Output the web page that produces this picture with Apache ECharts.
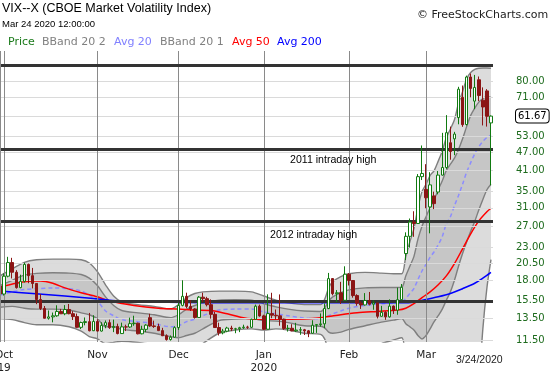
<!DOCTYPE html>
<html><head><meta charset="utf-8">
<script src="https://cdn.jsdelivr.net/npm/echarts@6/dist/echarts.min.js"></script>
<style>html,body{margin:0;padding:0;background:#fff}#c{width:550px;height:375px}</style>
</head><body><div id="c"></div>
<script>
// ---- categories (trading days) ----
const dates = ['9/30',
'10/1','10/2','10/3','10/4','10/7','10/8','10/9','10/10','10/11','10/14','10/15','10/16','10/17','10/18','10/21','10/22','10/23','10/24','10/25','10/28','10/29','10/30','10/31',
'11/1','11/4','11/5','11/6','11/7','11/8','11/11','11/12','11/13','11/14','11/15','11/18','11/19','11/20','11/21','11/22','11/25','11/26','11/27','11/29',
'12/2','12/3','12/4','12/5','12/6','12/9','12/10','12/11','12/12','12/13','12/16','12/17','12/18','12/19','12/20','12/23','12/24','12/26','12/27','12/30','12/31',
'1/2','1/3','1/6','1/7','1/8','1/9','1/10','1/13','1/14','1/15','1/16','1/17','1/21','1/22','1/23','1/24','1/27','1/28','1/29','1/30','1/31',
'2/3','2/4','2/5','2/6','2/7','2/10','2/11','2/12','2/13','2/14','2/18','2/19','2/20','2/21','2/24','2/25','2/26','2/27','2/28',
'3/2','3/3','3/4','3/5','3/6','3/9','3/10','3/11','3/12','3/13','3/16','3/17','3/18','3/19','3/20','3/23','3/24'];

// ---- price candles ----
const opens = [17.22,
16.24,18.56,20.56,19.12,17.04,17.86,20.28,18.64,17.57,15.58,14.57,13.54,13.68,13.79,14.25,14.00,14.46,14.01,13.71,12.65,13.11,13.20,12.33,
13.22,12.30,12.83,13.10,12.62,12.73,12.07,12.69,12.68,13.00,13.05,12.05,12.46,13.60,12.78,12.73,12.34,11.87,11.54,11.75,
12.62,14.91,15.96,14.80,14.52,13.62,15.86,15.68,14.99,13.94,12.63,12.14,12.29,12.58,12.50,12.51,12.61,12.67,12.65,13.43,14.82,
13.78,12.47,14.02,13.85,13.79,13.45,12.54,12.56,12.32,12.39,12.42,12.32,12.10,12.85,12.91,12.98,14.56,18.23,16.28,16.39,15.49,
18.84,17.97,16.05,15.15,14.96,15.47,15.04,15.18,13.74,14.15,13.68,14.83,14.38,15.56,22.00,25.03,27.85,27.56,39.16,
35.60,31.20,33.90,34.90,39.62,41.94,50.50,52.00,61.00,71.00,57.90,82.70,69.00,81.00,69.50,74.50,58.60];
const highs = [17.60,
18.95,21.46,21.30,19.42,18.77,20.53,20.40,19.75,17.60,16.23,14.84,14.35,14.13,14.92,14.52,14.94,15.07,14.28,14.02,13.20,13.62,14.09,13.85,
13.43,13.14,13.32,13.40,13.40,13.00,13.10,12.90,13.60,13.80,13.10,12.80,12.95,14.00,13.30,13.00,12.60,12.00,11.90,12.75,
15.20,18.00,16.40,15.50,14.60,16.00,16.40,15.90,15.60,14.20,13.10,12.50,12.70,12.80,12.60,12.70,12.90,12.80,13.50,15.00,15.00,
13.90,16.20,16.39,14.46,16.19,13.50,12.88,12.95,13.08,12.67,12.50,12.40,13.34,12.95,14.04,15.13,19.02,18.30,16.73,17.79,19.99,
19.01,18.00,16.21,15.37,16.35,16.49,15.47,15.20,14.86,14.27,15.60,14.90,17.04,17.50,25.79,28.61,30.21,39.92,49.48,
43.00,40.50,35.00,40.85,54.39,62.12,57.00,54.80,76.83,77.57,83.56,84.83,84.00,83.00,76.50,75.50,62.00];
const lows = [16.10,
16.05,18.40,18.25,16.91,16.95,17.70,17.61,16.94,15.05,14.40,13.52,13.40,13.13,13.69,13.99,13.85,13.95,13.36,12.60,12.48,12.84,12.27,12.30,
12.26,12.25,12.56,12.50,12.20,12.00,12.05,12.30,12.60,12.80,12.00,12.00,12.20,12.70,12.60,12.30,11.85,11.45,11.45,11.70,
12.40,14.80,14.60,14.30,13.50,13.60,15.30,14.80,13.50,12.60,11.90,12.00,12.20,12.30,12.10,12.20,12.50,12.50,12.60,13.40,13.70,
12.40,12.45,13.54,13.39,12.80,12.41,12.25,12.28,12.22,11.96,11.94,11.75,12.05,12.13,12.71,12.57,14.50,16.07,15.29,15.07,15.40,
17.31,15.80,14.87,14.52,14.90,14.91,14.43,13.52,13.70,13.38,13.60,13.98,13.90,15.50,20.95,23.01,24.94,27.50,38.18,
30.90,25.60,30.70,34.30,39.50,41.50,44.46,46.00,58.00,56.90,57.50,71.00,65.00,69.00,57.50,57.00,36.70];
const closes = [16.24,
18.56,20.56,19.12,17.04,17.86,20.28,18.64,17.57,15.58,14.57,13.54,13.68,13.79,14.25,14.00,14.46,14.01,13.71,12.65,13.11,13.20,12.33,13.22,
12.30,12.83,13.10,12.62,12.73,12.07,12.69,12.68,13.00,13.05,12.05,12.46,12.86,12.78,12.73,12.34,11.87,11.54,11.75,12.62,
14.91,15.96,14.80,14.52,13.62,15.86,15.68,14.99,13.94,12.63,12.14,12.29,12.58,12.50,12.51,12.61,12.67,12.65,13.43,14.82,13.78,
12.47,14.02,13.85,13.79,13.45,12.54,12.56,12.32,12.39,12.42,12.32,12.10,12.85,12.91,12.98,14.56,18.23,16.28,16.39,15.49,18.84,
17.97,16.05,15.15,14.96,15.47,15.04,15.18,13.74,14.15,13.68,14.83,14.38,15.56,17.08,25.03,27.85,27.56,39.16,40.11,
33.42,36.82,31.99,39.62,41.94,54.46,47.30,53.90,75.47,57.83,82.69,75.91,76.45,72.00,66.04,61.59,61.67];

// ---- Bollinger bands / Avg 20, read at these day indexes ----
const bandIdx = [0,3,6,9,13,17,20,22,24,26,28,30,34,38,42,44,46,48,50,54,58,62,65,68,71,75,79,80,81,82,84,86,90,94,97,99,100,101,102,103,104,105,106,107,108,109,110,111,112,113,114,115,116,117,118,119,120,121];
const bbUpper2 = [18.6,19.6,20.6,21.0,21.1,21.1,21.0,20.5,19.2,17.4,16.0,15.3,15.0,14.8,14.5,15.0,15.8,16.3,16.5,16.6,16.6,16.5,16.0,15.5,15.2,15.0,15.0,15.6,17.0,17.8,18.5,18.9,19.1,19.0,18.9,18.9,21.5,24.0,26.5,31.0,35.0,37.0,39.5,41.0,44.0,47.5,52.5,56.0,60.0,68.0,74.0,81.5,85.5,87.5,88.3,88.5,88.5,88.3];
const bbUpper1 = [17.3,18.0,18.7,18.95,19.05,19.0,18.8,18.3,17.3,15.9,14.9,14.35,14.1,13.9,13.6,13.9,14.5,14.9,15.2,15.5,15.55,15.5,15.1,14.75,14.5,14.3,14.25,14.6,15.4,15.9,16.4,16.75,17.0,17.05,17.05,17.1,18.6,20.0,21.5,24.5,27.0,29.0,31.0,33.0,35.5,38.0,41.0,43.0,45.0,48.0,52.0,57.0,62.0,65.5,68.5,70.3,71.5,71.0];
const avg20 = [16.1,16.5,16.8,16.9,17.0,16.9,16.6,16.1,15.4,14.3,13.8,13.4,13.2,13.0,12.7,12.8,13.2,13.45,13.8,14.4,14.5,14.5,14.2,14.0,13.8,13.55,13.5,13.6,13.8,14.0,14.3,14.6,14.9,15.1,15.2,15.3,15.7,16.3,16.9,18.1,19.3,20.3,21.4,22.3,23.5,25.0,27.5,29.0,31.5,34.0,37.0,40.5,43.5,46.5,49.0,51.0,52.5,53.5];
const bbLower1 = [14.7,14.8,14.6,14.5,14.5,14.4,14.1,13.9,13.5,12.7,12.7,12.45,12.3,12.1,11.8,11.7,11.9,12.1,12.5,13.3,13.45,13.5,13.3,13.25,13.1,12.8,12.75,12.6,12.2,12.1,12.2,12.45,12.8,13.15,13.35,13.5,13.0,12.7,12.4,11.9,11.6,11.9,12.5,13.2,13.8,14.5,15.5,16.5,18.0,20.0,22.0,24.0,26.0,28.0,30.5,33.0,35.5,37.0];
const bbLower2 = [13.5,13.4,13.1,12.9,12.9,12.7,12.3,11.8,11.6,11.2,11.3,11.4,11.3,11.1,10.9,10.6,10.6,10.7,11.2,12.1,12.4,12.5,12.4,12.5,12.4,12.1,12.0,11.6,10.6,10.2,10.1,10.3,10.7,11.2,11.5,11.7,10.2,9.3,8.5,6.0,5,5,5,5,5,5,5,5,5,5,5,5,5,5,8.0,12.5,17.0,21.0];

// ---- Avg 50 / Avg 200, read at these day indexes ----
const avg50Idx = [0,4,8,10,13,16,20,24,27,33,39,44,48,52,56,60,63,70,76,80,84,88,93,98,100,102,104,106,108,110,112,114,116,118,120,121];
const avg50 = [17.1,17.6,17.9,17.9,17.6,17.0,16.4,15.9,15.4,14.9,14.6,14.5,14.4,14.35,14.0,13.6,13.45,13.45,13.5,13.65,13.9,14.1,14.25,14.4,14.6,15.1,15.8,16.5,17.4,18.6,20.4,22.8,25.5,28.1,30.1,30.9];
const avg200Idx = [0,8,16,23,27,33,45,60,80,100,103,105,108,111,114,117,119,121];
const avg200 = [16.6,16.3,16.0,15.7,15.5,15.3,15.25,15.2,15.2,15.2,15.35,15.6,15.9,16.3,16.9,17.6,18.3,19.1];

// ---- axis ticks, reference levels, month labels ----
const yTicks = [80,71,53,47,41,35,31,27,23,20.5,18,15.5,13.5,11.5];
const levelLines = [90.5,48.2,28.1,15.4];
const monthStarts = {'10/1':'Oct\n19','11/1':'Nov','12/2':'Dec','1/2':'Jan\n2020','2/3':'Feb','3/2':'Mar'};

const lastPrice = closes[closes.length-1];
const FONT = 'DejaVu Sans';
const pairs = (idx, vals) => idx.map((k,i)=>[dates[k], vals[i]]);
const bandLine = {color:'#7f7f7f', width:1.4};
function bandSeries(vals, fill){
  return {type:'line', data:pairs(bandIdx, vals), smooth:0.3, symbol:'none', z:1, silent:true,
    lineStyle:bandLine, areaStyle:{color:fill, opacity:1, origin:'start'}};
}
const chart = echarts.init(document.getElementById('c'));
const tickData = yTicks.map(v=>({yAxis:v, label:{formatter:v.toFixed(2)}}));
tickData.push({yAxis:lastPrice, label:{formatter:lastPrice.toFixed(2), color:'#000', backgroundColor:'#fff',
  borderColor:'#000', borderWidth:1, borderRadius:3, padding:[2,2,1,2]}});

chart.setOption({
  animation:false,
  grid:{left:-2, right:57, top:51, bottom:33, outerBoundsMode:'none', containLabel:false},
  xAxis:{type:'category', data:dates, boundaryGap:true,
    axisLine:{show:false}, axisTick:{show:false}, splitLine:{show:false},
    axisLabel:{interval:(i,v)=> (v in monthStarts), formatter:(v)=> monthStarts[v]||'',
      fontFamily:FONT, fontSize:10.5, color:'#222', lineHeight:13, margin:7, hideOverlap:false}},
  yAxis:{type:'log', logBase:10, min:11.33, max:100.5, position:'right',
    axisLine:{show:false}, axisTick:{show:false}, axisLabel:{show:false}, splitLine:{show:false}},
  graphic:[
    {type:'line', shape:{x1:0.5,y1:51,x2:0.5,y2:342}, style:{stroke:'#8a8a8a', lineWidth:1}, z:50},
    {type:'text', left:2, top:2, z:100, style:{text:'VIX--X (CBOE Market Volatility Index)', font:'12.5px "Liberation Sans"', fill:'#000'}},
    {type:'text', left:2, top:19.5, z:100, style:{text:'Mar 24 2020 12:00:00', font:'9.5px "Liberation Sans"', fill:'#000'}},
    {type:'text', left:417, top:10, z:100, style:{text:'\u00A9 FreeStockCharts.com', font:'11px "DejaVu Sans"', fill:'#222'}},
    {type:'text', left:8, top:36.5, z:100, style:{text:'Price', font:'11px "DejaVu Sans"', fill:'#1a7a1a'}},
    {type:'text', left:42, top:36.5, z:100, style:{text:'BBand 20 2', font:'11px "DejaVu Sans"', fill:'#808080'}},
    {type:'text', left:114, top:36.5, z:100, style:{text:'Avg 20', font:'11px "DejaVu Sans"', fill:'#8080ff'}},
    {type:'text', left:160, top:36.5, z:100, style:{text:'BBand 20 1', font:'11px "DejaVu Sans"', fill:'#808080'}},
    {type:'text', left:232, top:36.5, z:100, style:{text:'Avg 50', font:'11px "DejaVu Sans"', fill:'#ff0000'}},
    {type:'text', left:277, top:36.5, z:100, style:{text:'Avg 200', font:'11px "DejaVu Sans"', fill:'#0000ff'}},
    {type:'text', left:290, top:155, z:100, style:{text:'2011 intraday high', font:'10.6px "Liberation Sans"', fill:'#000'}},
    {type:'text', left:270, top:230, z:100, style:{text:'2012 intraday high', font:'10.6px "Liberation Sans"', fill:'#000'}},
    {type:'text', left:456, top:355, z:100, style:{text:'3/24/2020', font:'10.5px "Liberation Sans"', fill:'#222'}}
  ],
  series:[
    bandSeries(bbUpper2, '#dcdcdc'),
    bandSeries(bbUpper1, '#c6c6c6'),
    bandSeries(bbLower1, '#dcdcdc'),
    bandSeries(bbLower2, '#ffffff'),
    {type:'line', data:[], z:2, silent:true,
      markLine:{silent:true, symbol:'none', lineStyle:{color:'#dadada', width:1, type:'solid'},
        label:{show:true, position:'end', distance:23, fontFamily:FONT, fontSize:10, color:'#1d6b1d'},
        data:tickData}},
    {type:'line', data:[], z:2, silent:true,
      markLine:{silent:true, symbol:'none', lineStyle:{color:'#8a8a8a', width:1, type:'solid'},
        label:{show:false}, data:Object.keys(monthStarts).map(d=>({xAxis:d}))}},
    {type:'line', data:[], z:3, silent:true,
      markLine:{silent:true, symbol:'none', lineStyle:{color:'#333333', width:3, type:'solid'},
        label:{show:false}, data:levelLines.map(v=>({yAxis:v}))}},
    {type:'line', data:pairs(bandIdx, avg20), smooth:0.3, symbol:'none', z:4, silent:true,
      lineStyle:{color:'#8c8cff', width:1.5, type:[4,3]}},
    {type:'line', data:pairs(avg50Idx, avg50), smooth:0.3, symbol:'none', z:4, silent:true,
      lineStyle:{color:'#ff0000', width:1.5}},
    {type:'line', data:pairs(avg200Idx, avg200), smooth:0.3, symbol:'none', z:4, silent:true,
      lineStyle:{color:'#0000ff', width:1.5}},
    {type:'candlestick', z:5, silent:true, barWidth:3,
      data:dates.map((d,i)=>[opens[i], closes[i], lows[i], highs[i]]),
      itemStyle:{color:'#ffffff', color0:'#8b1515', borderColor:'#117a11', borderColor0:'#8b1515', borderWidth:1}}
  ]
});
</script></body></html>
